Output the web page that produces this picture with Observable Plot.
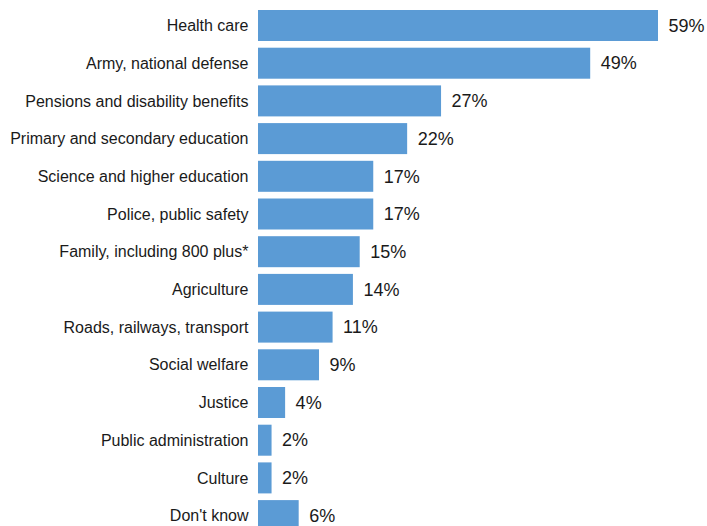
<!DOCTYPE html>
<html>
<head>
<meta charset="utf-8">
<script src="https://cdn.jsdelivr.net/npm/d3@7"></script>
<script src="https://cdn.jsdelivr.net/npm/@observablehq/plot@0.6"></script>
<style>
  html, body { margin: 0; padding: 0; background: #fff; overflow: hidden; }
  #chart svg { display: block; }
</style>
</head>
<body>
<div id="chart"></div>
<script>
const categories = [
  "Health care",
  "Army, national defense",
  "Pensions and disability benefits",
  "Primary and secondary education",
  "Science and higher education",
  "Police, public safety",
  "Family, including 800 plus*",
  "Agriculture",
  "Roads, railways, transport",
  "Social welfare",
  "Justice",
  "Public administration",
  "Culture",
  "Don't know"
];
const values = [59, 49, 27, 22, 17, 17, 15, 14, 11, 9, 4, 2, 2, 6];

const data = categories.map((c, i) => ({category: c, value: values[i]}));

const chart = Plot.plot({
  width: 707,
  height: 540,
  marginLeft: 258,
  marginRight: 49,
  marginTop: 0,
  marginBottom: 0,
  style: {fontFamily: "'Liberation Sans', Arial, sans-serif", background: "#fff"},
  x: {domain: [0, 59], axis: null},
  y: {domain: categories, padding: 0.1777, range: [3.3, 537.8], round: false, label: null},
  marks: [
    Plot.barX(data, {x: "value", y: "category", fill: "#5b9bd5"}),
    Plot.text(data, {x: "value", y: "category", text: d => d.value + "%", textAnchor: "start", dx: 10, fontSize: 18, fill: "#1a1a1a"}),
    Plot.axisY({tickSize: 0, tickPadding: 10, fontSize: 16, label: null, color: "#1a1a1a"})
  ]
});
document.getElementById("chart").appendChild(chart);
</script>
</body>
</html>
